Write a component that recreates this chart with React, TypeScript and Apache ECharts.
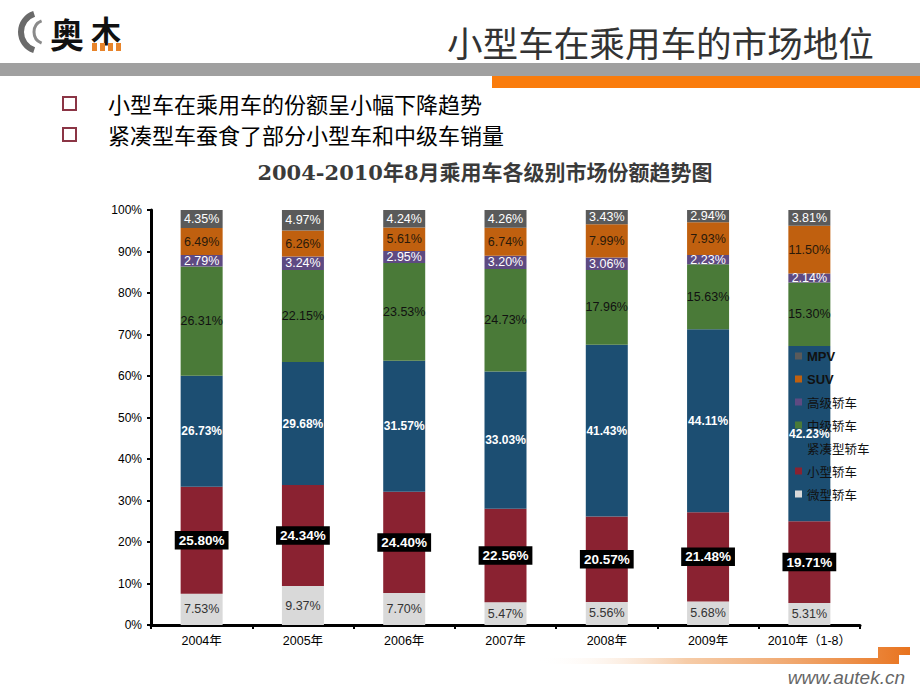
import React, { useEffect, useRef } from "react";
import * as echarts from "echarts";

const categories = ["2004年", "2005年", "2006年", "2007年", "2008年", "2009年", "2010年（1-8）"];
const microShare = [7.53, 9.37, 7.7, 5.47, 5.56, 5.68, 5.31];
const smallShare = [25.8, 24.34, 24.4, 22.56, 20.57, 21.48, 19.71];
const compactShare = [26.73, 29.68, 31.57, 33.03, 41.43, 44.11, 42.23];
const midShare = [26.31, 22.15, 23.53, 24.73, 17.96, 15.63, 15.3];
const highShare = [2.79, 3.24, 2.95, 3.2, 3.06, 2.23, 2.14];
const suvShare = [6.49, 6.26, 5.61, 6.74, 7.99, 7.93, 11.5];
const mpvShare = [4.35, 4.97, 4.24, 4.26, 3.43, 2.94, 3.81];
const legendOrder = ["MPV", "SUV", "高级轿车", "中级轿车", "紧凑型轿车", "小型轿车", "微型轿车"];

const pageTitle = "小型车在乘用车的市场地位";
const bullets = ["小型车在乘用车的份额呈小幅下降趋势", "紧凑型车蚕食了部分小型车和中级车销量"];
const chartTitle = "2004-2010年8月乘用车各级别市场份额趋势图";

const SANS = "Liberation Sans, Arial, Noto Sans CJK SC, sans-serif";
const CJK = "Noto Sans CJK SC, sans-serif";

export default function App() {
  const ref = useRef<HTMLDivElement>(null);
  useEffect(() => {
    document.body.style.margin = "0";
    const chart = echarts.init(ref.current!, undefined, { renderer: "svg" });
    const fmt = (p: any) => Number(p.value).toFixed(2) + "%";
    const mk = (name: string, data: number[], color: string, label: any) => ({
      name,
      type: "bar",
      stack: "total",
      barWidth: 42,
      data,
      itemStyle: { color },
      label: {
        show: true,
        position: "inside",
        formatter: fmt,
        fontFamily: SANS,
        fontSize: 12.5,
        ...label,
      },
    });
    chart.setOption({
      animation: false,
      backgroundColor: "#fff",
      grid: { left: 151, right: 60, top: 210, bottom: 65, containLabel: false },
      legend: {
        orient: "vertical",
        left: 790,
        top: 344,
        itemWidth: 7,
        itemHeight: 7,
        itemGap: 9,
        icon: "rect",
        selectedMode: false,
        textStyle: { fontFamily: CJK, fontSize: 12.5, color: "#111", lineHeight: 14 },
        data: legendOrder.map((n) =>
          n === "MPV" || n === "SUV"
            ? { name: n, textStyle: { fontWeight: "bold", fontFamily: SANS, fontSize: 13 } }
            : { name: n }
        ),
      },
      xAxis: {
        type: "category",
        data: categories,
        axisLine: { lineStyle: { color: "#000", width: 3 } },
        axisTick: { show: true, interval: 0, length: 4, lineStyle: { color: "#000", width: 2 } },
        axisLabel: { interval: 0, color: "#000", fontFamily: SANS, fontSize: 12.5, margin: 10 },
      },
      yAxis: {
        type: "value",
        min: 0,
        max: 100,
        interval: 10,
        axisLine: { show: true, lineStyle: { color: "#000", width: 3 } },
        axisTick: { show: true, length: 4, lineStyle: { color: "#000", width: 2 } },
        splitLine: { show: false },
        axisLabel: { formatter: "{value}%", color: "#000", fontFamily: SANS, fontSize: 12, margin: 9 },
      },
      series: [
        mk("微型轿车", microShare, "#D9D9D9", { color: "#333" }),
        mk("小型轿车", smallShare, "#8A2231", {
          color: "#fff",
          fontWeight: "bold",
          fontSize: 13.5,
          backgroundColor: "#000",
          padding: [3, 4, 2, 4],
        }),
        mk("紧凑型轿车", compactShare, "#1C4E72", { color: "#fff", fontWeight: "bold", fontSize: 12 }),
        mk("中级轿车", midShare, "#4A7A38", { color: "#111" }),
        mk("高级轿车", highShare, "#5E4A82", { color: "#fff" }),
        mk("SUV", suvShare, "#C0600F", { color: "#2a1a0a" }),
        mk("MPV", mpvShare, "#5A5A5A", { color: "#fff" }),
      ],
      graphic: [
        // header bands
        { type: "rect", shape: { x: 0, y: 63, width: 920, height: 13 }, style: { fill: "#A0A0A0" } },
        { type: "rect", shape: { x: 492, y: 76, width: 428, height: 12 }, style: { fill: "#FA7C0C" } },
        // logo
        {
          type: "arc",
          shape: { cx: 40, cy: 32, r: 19, startAngle: Math.PI * 0.6, endAngle: Math.PI * 1.4 },
          style: { stroke: "#6a6a6a", lineWidth: 6, fill: "none" },
        },
        {
          type: "arc",
          shape: { cx: 46, cy: 32, r: 12, startAngle: Math.PI * 0.62, endAngle: Math.PI * 1.38 },
          style: { stroke: "#8a8a8a", lineWidth: 3, fill: "none" },
        },
        {
          type: "text",
          style: { text: "奥", x: 67, y: 33, fontSize: 34, fontWeight: "bold", fontFamily: CJK, fill: "#111", align: "center", verticalAlign: "middle" },
        },
        {
          type: "text",
          style: { text: "木", x: 106, y: 29, fontSize: 30, fontWeight: "bold", fontFamily: CJK, fill: "#111", align: "center", verticalAlign: "middle" },
        },
        { type: "rect", shape: { x: 92, y: 43, width: 5, height: 8 }, style: { fill: "#E8842A" } },
        { type: "rect", shape: { x: 100, y: 43, width: 5, height: 8 }, style: { fill: "#E8842A" } },
        { type: "rect", shape: { x: 108, y: 43, width: 5, height: 8 }, style: { fill: "#E8842A" } },
        { type: "rect", shape: { x: 116, y: 43, width: 5, height: 8 }, style: { fill: "#E8842A" } },
        // page title
        {
          type: "text",
          style: { text: pageTitle, x: 447, y: 41, fontSize: 35.6, fontFamily: CJK, fill: "#333", verticalAlign: "middle" },
        },
        // bullets
        { type: "rect", shape: { x: 63, y: 97, width: 13, height: 13 }, style: { fill: "none", stroke: "#8B3545", lineWidth: 2 } },
        { type: "rect", shape: { x: 63, y: 128, width: 13, height: 13 }, style: { fill: "none", stroke: "#8B3545", lineWidth: 2 } },
        {
          type: "text",
          style: { text: bullets[0], x: 108, y: 103, fontSize: 22, fontFamily: CJK, fill: "#000", verticalAlign: "middle" },
        },
        {
          type: "text",
          style: { text: bullets[1], x: 108, y: 134, fontSize: 22, fontFamily: CJK, fill: "#000", verticalAlign: "middle" },
        },
        // chart title
        {
          type: "text",
          style: {
            text: chartTitle,
            x: 485,
            y: 172,
            fontSize: 21,
            fontWeight: "bold",
            fontFamily: "DejaVu Serif, Noto Sans CJK SC, serif",
            fill: "#3a3a3a",
            align: "center",
            verticalAlign: "middle",
            textShadowColor: "rgba(0,0,0,0.25)",
            textShadowOffsetX: 1,
            textShadowOffsetY: 1,
          },
        },
        // bottom decoration
        {
          type: "polygon",
          shape: {
            points: [
              [537, 658], [878, 658], [878, 647], [910, 647], [910, 655], [899, 655], [899, 664], [537, 664],
            ],
          },
          style: {
            fill: new echarts.graphic.LinearGradient(0, 0, 1, 0, [
              { offset: 0, color: "rgba(255,255,255,0)" },
              { offset: 0.4, color: "rgba(240,170,110,0.6)" },
              { offset: 1, color: "#E8731E" },
            ]),
          },
        },
        {
          type: "text",
          style: {
            text: "www.autek.cn",
            x: 905,
            y: 677,
            fontSize: 19,
            fontStyle: "italic",
            fontFamily: SANS,
            fill: "#666",
            align: "right",
            verticalAlign: "middle",
          },
        },
      ],
    });
    return () => chart.dispose();
  }, []);
  return <div ref={ref} style={{ position: "fixed", left: 0, top: 0, width: 920, height: 690 }} />;
}
